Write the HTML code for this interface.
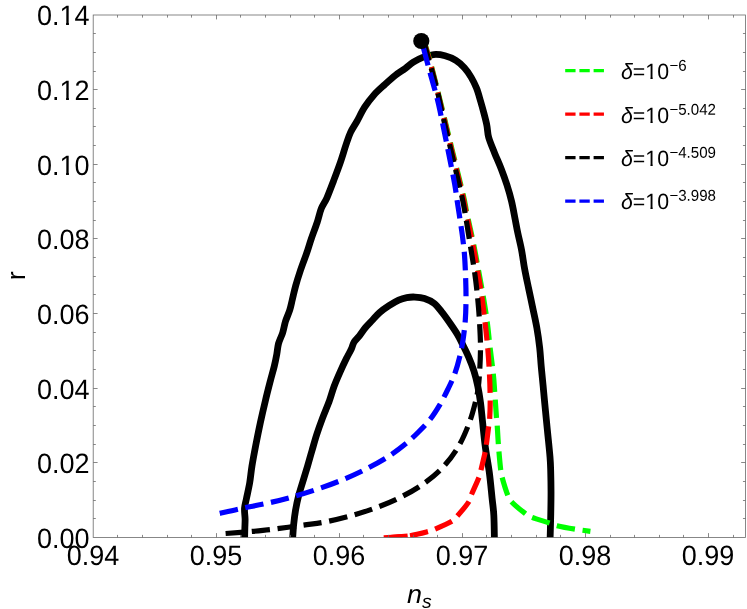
<!DOCTYPE html><html><head><meta charset="utf-8"><style>
html,body{margin:0;padding:0;background:#fff;}
body{width:747px;height:609px;position:relative;overflow:hidden;font-family:"Liberation Sans",sans-serif;color:#000;}
.t{position:absolute;font-size:27px;line-height:27px;white-space:nowrap;}
.d{transform:rotate(0.03deg) scaleY(1.04);transform-origin:50% 22.85px;}
.yl{right:657.5px;text-align:right;}
.xl{width:80px;text-align:center;}
.o{display:inline-block;clip-path:polygon(0 0,100% 0,100% 0.735em,62.5% 0.735em,62.5% 100%,43.5% 100%,43.5% 0.735em,0 0.735em);}
.lg{position:absolute;left:620.8px;font-size:21.3px;line-height:22px;white-space:nowrap;transform:rotate(0.03deg) scaleY(1.04);transform-origin:0 18.3px;}
.lg .o{clip-path:polygon(0 0,100% 0,100% 0.758em,62.5% 0.758em,62.5% 100%,43.5% 100%,43.5% 0.758em,0 0.758em);}
.lg i{font-style:italic;}
.lg sup{font-size:15.1px;line-height:0;vertical-align:baseline;position:relative;top:-8.3px;left:0.4px}
</style></head><body>
<svg width="747" height="609" viewBox="0 0 747 609" style="position:absolute;left:0;top:0">
<clipPath id="c"><rect x="93.2" y="15.0" width="652.3" height="522.5"/></clipPath>
<g clip-path="url(#c)" fill="none" stroke-linejoin="round">
<path d="M244.60 539.00 C244.64 537.22 244.75 531.61 244.84 528.30 C244.92 524.99 245.15 522.48 245.10 519.14 C245.04 515.80 244.28 511.80 244.52 508.29 C244.76 504.77 245.68 502.31 246.54 498.06 C247.41 493.81 248.79 488.12 249.70 482.80 C250.60 477.48 250.95 472.33 251.95 466.15 C252.95 459.97 254.30 452.92 255.68 445.72 C257.07 438.53 258.66 430.55 260.28 423.00 C261.91 415.45 263.78 407.41 265.45 400.42 C267.12 393.43 268.83 386.78 270.30 381.06 C271.78 375.34 273.22 370.56 274.30 366.10 C275.37 361.63 276.05 358.06 276.76 354.30 C277.46 350.53 277.56 347.10 278.54 343.50 C279.53 339.90 281.51 336.40 282.68 332.70 C283.84 329.01 284.34 325.08 285.52 321.31 C286.71 317.54 288.63 313.71 289.76 310.08 C290.90 306.45 291.37 303.52 292.34 299.51 C293.32 295.49 294.32 290.70 295.62 285.99 C296.92 281.28 298.32 276.71 300.16 271.24 C302.00 265.77 304.83 258.50 306.66 253.18 C308.48 247.85 309.34 244.43 311.10 239.29 C312.85 234.15 315.48 227.45 317.18 222.33 C318.88 217.21 319.66 212.65 321.29 208.56 C322.91 204.47 324.86 202.46 326.93 197.78 C329.00 193.11 331.45 186.45 333.70 180.50 C335.95 174.55 338.39 168.10 340.46 162.10 C342.52 156.10 344.40 149.49 346.08 144.53 C347.76 139.57 348.72 136.21 350.54 132.33 C352.35 128.45 354.65 125.45 357.00 121.25 C359.34 117.05 361.79 111.54 364.62 107.15 C367.44 102.76 370.56 98.69 373.94 94.90 C377.32 91.12 381.32 87.70 384.88 84.43 C388.44 81.17 391.90 77.99 395.30 75.32 C398.70 72.65 402.26 70.61 405.26 68.41 C408.27 66.21 410.42 63.95 413.33 62.12 C416.24 60.28 419.32 58.64 422.72 57.38 C426.11 56.12 430.00 54.82 433.71 54.54 C437.42 54.26 441.30 54.74 444.99 55.71 C448.68 56.67 452.63 58.33 455.86 60.34 C459.10 62.34 461.85 64.93 464.38 67.73 C466.92 70.52 469.05 73.68 471.08 77.12 C473.11 80.55 475.00 84.32 476.58 88.33 C478.16 92.33 479.32 96.92 480.56 101.14 C481.81 105.36 482.99 109.64 484.04 113.67 C485.09 117.69 486.08 121.35 486.85 125.30 C487.62 129.25 487.39 132.75 488.67 137.35 C489.96 141.95 492.45 147.63 494.55 152.90 C496.65 158.17 499.19 163.64 501.26 169.00 C503.33 174.36 505.25 179.69 506.97 185.09 C508.69 190.49 510.22 195.77 511.57 201.39 C512.92 207.01 514.03 213.59 515.06 218.79 C516.08 224.00 516.65 227.44 517.73 232.61 C518.81 237.78 520.38 243.74 521.53 249.83 C522.69 255.91 523.48 262.64 524.67 269.11 C525.86 275.59 527.33 282.17 528.69 288.69 C530.05 295.20 531.45 301.70 532.81 308.21 C534.17 314.73 535.70 321.27 536.83 327.79 C537.97 334.30 538.89 340.80 539.63 347.31 C540.37 353.83 540.69 360.49 541.27 366.89 C541.85 373.28 542.55 379.86 543.10 385.69 C543.66 391.53 543.90 394.61 544.60 401.91 C545.31 409.21 546.41 420.36 547.31 429.49 C548.21 438.62 549.42 449.73 549.99 456.70 C550.55 463.68 550.53 465.42 550.70 471.32 C550.87 477.22 551.01 484.90 551.02 492.10 C551.02 499.30 550.90 506.71 550.75 514.52 C550.60 522.34 550.21 534.92 550.10 539.00" stroke="#000" stroke-width="6.8"/>
<path d="M292.60 539.00 C292.78 536.54 293.21 529.01 293.70 524.23 C294.18 519.45 294.73 514.97 295.52 510.31 C296.31 505.66 297.20 501.23 298.46 496.31 C299.73 491.39 301.61 485.76 303.10 480.78 C304.60 475.79 305.97 471.45 307.45 466.42 C308.93 461.39 310.45 455.92 312.00 450.60 C313.55 445.28 314.98 439.91 316.73 434.50 C318.49 429.09 320.41 423.78 322.53 418.12 C324.65 412.47 327.54 405.86 329.46 400.59 C331.37 395.31 332.31 391.13 334.04 386.46 C335.77 381.80 337.76 377.22 339.82 372.58 C341.88 367.94 344.47 362.50 346.37 358.61 C348.27 354.72 349.96 351.97 351.23 349.24 C352.50 346.51 352.62 344.45 353.98 342.22 C355.34 339.99 357.49 338.29 359.41 335.84 C361.33 333.39 363.36 330.13 365.51 327.54 C367.66 324.95 369.96 322.77 372.30 320.28 C374.64 317.79 376.76 315.05 379.55 312.62 C382.33 310.19 385.83 307.80 389.01 305.72 C392.20 303.64 395.70 301.48 398.66 300.13 C401.62 298.78 404.09 298.12 406.80 297.60 C409.51 297.09 411.98 296.88 414.93 297.03 C417.88 297.18 421.31 297.45 424.51 298.50 C427.72 299.55 431.20 300.97 434.16 303.32 C437.12 305.68 439.63 309.27 442.30 312.63 C444.97 316.00 447.65 319.83 450.20 323.51 C452.75 327.18 455.60 331.35 457.58 334.67 C459.57 338.00 460.28 339.72 462.13 343.45 C463.98 347.19 466.69 352.41 468.68 357.09 C470.68 361.76 472.57 366.66 474.08 371.51 C475.60 376.36 476.72 381.05 477.79 386.20 C478.86 391.36 479.71 396.59 480.49 402.43 C481.28 408.27 481.70 413.93 482.50 421.25 C483.29 428.57 484.10 437.76 485.24 446.34 C486.38 454.92 488.22 464.06 489.36 472.73 C490.50 481.41 491.36 491.29 492.10 498.39 C492.85 505.49 493.45 508.55 493.83 515.32 C494.21 522.09 494.31 535.05 494.40 539.00" stroke="#000" stroke-width="6.8"/>
<path d="M424.20 41.00 C425.55 45.72 429.22 57.63 432.30 69.30 C435.38 80.97 439.38 97.55 442.70 111.00 C446.02 124.45 448.77 135.97 452.20 150.00 C455.63 164.03 460.87 184.75 463.30 195.20 C465.73 205.65 465.07 204.48 466.80 212.70 C468.53 220.92 471.75 234.90 473.70 244.50 C475.65 254.10 476.92 261.68 478.50 270.30 C480.08 278.92 481.75 287.62 483.20 296.20 C484.65 304.78 486.05 313.18 487.20 321.80 C488.35 330.42 489.08 339.22 490.10 347.90 C491.12 356.58 492.53 366.57 493.30 373.90 C494.07 381.23 494.17 384.55 494.70 391.90 C495.23 399.25 496.08 412.43 496.50 418.00 C496.92 423.57 496.85 420.38 497.20 425.30 C497.55 430.22 498.02 440.07 498.60 447.50 C499.18 454.93 500.12 464.92 500.70 469.90 C501.28 474.88 500.98 473.33 502.10 477.40 C503.22 481.47 505.85 490.25 507.40 494.30 C508.95 498.35 508.45 498.52 511.40 501.70 C514.35 504.88 521.67 510.78 525.10 513.40 C528.53 516.02 527.92 515.80 532.00 517.40 C536.08 519.00 545.43 521.62 549.60 523.00 C553.77 524.38 552.75 524.67 557.00 525.70 C561.25 526.73 569.53 528.27 575.10 529.20 C580.67 530.13 587.85 530.95 590.40 531.30" stroke="#00ff00" stroke-width="5.2" stroke-dasharray="18.4 7.7" stroke-dashoffset="25.25"/>
<path d="M389.20 537.50 C392.58 537.22 403.05 536.78 409.50 535.80 C415.95 534.82 423.68 532.70 427.90 531.60 C432.12 530.50 430.88 530.88 434.80 529.20 C438.72 527.52 447.65 523.70 451.40 521.50 C455.15 519.30 454.47 519.18 457.30 516.00 C460.13 512.82 466.02 506.02 468.40 502.40 C470.78 498.78 469.83 498.47 471.60 494.30 C473.37 490.13 477.43 481.47 479.00 477.40 C480.57 473.33 480.00 473.98 481.00 469.90 C482.00 465.82 484.12 457.05 485.00 452.90 C485.88 448.75 485.70 449.38 486.30 445.00 C486.90 440.62 488.03 431.10 488.60 426.60 C489.17 422.10 489.43 422.43 489.70 418.00 C489.97 413.57 490.23 407.18 490.20 400.00 C490.17 392.82 489.90 383.42 489.50 374.90 C489.10 366.38 488.53 357.62 487.80 348.90 C487.07 340.18 486.08 331.28 485.10 322.60 C484.12 313.92 483.15 305.45 481.90 296.80 C480.65 288.15 479.08 279.35 477.60 270.70 C476.12 262.05 474.90 254.57 473.00 244.90 C471.10 235.23 467.92 220.98 466.20 212.70 C464.48 204.42 465.12 205.65 462.70 195.20 C460.28 184.75 455.10 164.03 451.70 150.00 C448.30 135.97 445.58 124.45 442.30 111.00 C439.02 97.55 435.07 80.97 432.00 69.30 C428.93 57.63 425.25 45.72 423.90 41.00" stroke="#ff0000" stroke-width="5.2" stroke-dasharray="18.4 7.7" stroke-dashoffset="5.20"/>
<path d="M383.7 537.8 Q396 537.3 407.7 536.0" stroke="#ff0000" stroke-width="5.2"/>
<path d="M225.40 533.50 C229.68 533.17 243.08 532.22 251.10 531.50 C259.12 530.78 264.80 530.27 273.50 529.20 C282.20 528.13 294.72 526.30 303.30 525.10 C311.88 523.90 317.07 523.55 325.00 522.00 C332.93 520.45 342.48 518.15 350.90 515.80 C359.32 513.45 367.42 510.90 375.50 507.90 C383.58 504.90 391.62 501.67 399.40 497.80 C407.18 493.93 415.07 489.67 422.20 484.70 C429.33 479.73 436.20 474.30 442.20 468.00 C448.20 461.70 453.73 454.32 458.20 446.90 C462.67 439.48 466.17 430.82 469.00 423.50 C471.83 416.18 473.67 408.92 475.20 403.00 C476.73 397.08 477.43 393.68 478.20 388.00 C478.97 382.32 479.42 375.73 479.80 368.90 C480.18 362.07 480.52 354.32 480.50 347.00 C480.48 339.68 480.03 331.58 479.70 325.00 C479.37 318.42 478.97 313.23 478.50 307.50 C478.03 301.77 477.53 296.37 476.90 290.60 C476.27 284.83 475.52 278.72 474.70 272.90 C473.88 267.08 473.12 262.68 472.00 255.70 C470.88 248.72 469.17 238.17 468.00 231.00 C466.83 223.83 466.07 218.67 465.00 212.70 C463.93 206.73 463.95 205.65 461.60 195.20 C459.25 184.75 454.22 164.03 450.90 150.00 C447.58 135.97 443.87 120.45 441.70 111.00 C439.53 101.55 439.60 100.25 437.90 93.30 C436.20 86.35 433.90 78.02 431.50 69.30 C429.10 60.58 424.83 45.72 423.50 41.00" stroke="#000000" stroke-width="5.2" stroke-dasharray="18.4 7.7" stroke-dashoffset="25.80"/>
<path d="M219.30 513.50 C223.00 512.65 233.55 510.10 241.50 508.40 C249.45 506.70 258.58 505.20 267.00 503.30 C275.42 501.40 283.67 499.33 292.00 497.00 C300.33 494.67 308.67 492.13 317.00 489.30 C325.33 486.47 333.92 483.33 342.00 480.00 C350.08 476.67 357.78 473.22 365.50 469.30 C373.22 465.38 381.55 460.80 388.30 456.50 C395.05 452.20 400.97 447.58 406.00 443.50 C411.03 439.42 414.48 436.02 418.50 432.00 C422.52 427.98 426.53 423.97 430.10 419.40 C433.67 414.83 436.92 409.67 439.90 404.60 C442.88 399.53 445.53 394.12 448.00 389.00 C450.47 383.88 452.75 379.27 454.70 373.90 C456.65 368.53 458.32 362.45 459.70 356.80 C461.08 351.15 462.07 346.13 463.00 340.00 C463.93 333.87 464.80 326.67 465.30 320.00 C465.80 313.33 465.93 306.67 466.00 300.00 C466.07 293.33 465.95 287.50 465.70 280.00 C465.45 272.50 465.07 262.50 464.50 255.00 C463.93 247.50 463.08 241.15 462.30 235.00 C461.52 228.85 460.65 223.77 459.80 218.10 C458.95 212.43 458.08 206.85 457.20 201.00 C456.32 195.15 456.03 191.50 454.50 183.00 C452.97 174.50 450.25 161.23 448.00 150.00 C445.75 138.77 442.82 124.25 441.00 115.60 C439.18 106.95 438.93 105.27 437.10 98.10 C435.27 90.93 432.58 82.12 430.00 72.60 C427.42 63.08 423.00 46.27 421.60 41.00" stroke="#0000ff" stroke-width="5.2" stroke-dasharray="18.4 7.7" stroke-dashoffset="25.50"/>
<circle cx="421.3" cy="41" r="8.1" fill="#000" stroke="none"/>
</g>
<g stroke="#6a6a6a" stroke-width="0.8" fill="none">
<rect x="93.2" y="15.0" width="652.3" height="522.5"/>
<path d="M117.50 537.50 v-2.60 M117.50 15.00 v2.60 M142.50 537.50 v-2.60 M142.50 15.00 v2.60 M167.50 537.50 v-2.60 M167.50 15.00 v2.60 M191.50 537.50 v-2.60 M191.50 15.00 v2.60 M216.50 537.50 v-4.40 M216.50 15.00 v4.40 M240.50 537.50 v-2.60 M240.50 15.00 v2.60 M265.50 537.50 v-2.60 M265.50 15.00 v2.60 M290.50 537.50 v-2.60 M290.50 15.00 v2.60 M314.50 537.50 v-2.60 M314.50 15.00 v2.60 M339.50 537.50 v-4.40 M339.50 15.00 v4.40 M363.50 537.50 v-2.60 M363.50 15.00 v2.60 M388.50 537.50 v-2.60 M388.50 15.00 v2.60 M413.50 537.50 v-2.60 M413.50 15.00 v2.60 M437.50 537.50 v-2.60 M437.50 15.00 v2.60 M462.50 537.50 v-4.40 M462.50 15.00 v4.40 M486.50 537.50 v-2.60 M486.50 15.00 v2.60 M511.50 537.50 v-2.60 M511.50 15.00 v2.60 M536.50 537.50 v-2.60 M536.50 15.00 v2.60 M560.50 537.50 v-2.60 M560.50 15.00 v2.60 M585.50 537.50 v-4.40 M585.50 15.00 v4.40 M610.50 537.50 v-2.60 M610.50 15.00 v2.60 M634.50 537.50 v-2.60 M634.50 15.00 v2.60 M659.50 537.50 v-2.60 M659.50 15.00 v2.60 M683.50 537.50 v-2.60 M683.50 15.00 v2.60 M708.50 537.50 v-4.40 M708.50 15.00 v4.40 M733.50 537.50 v-2.60 M733.50 15.00 v2.60 M93.20 518.50 h2.60 M745.55 518.50 h-2.60 M93.20 500.50 h2.60 M745.55 500.50 h-2.60 M93.20 481.50 h2.60 M745.55 481.50 h-2.60 M93.20 462.50 h4.40 M745.55 462.50 h-4.40 M93.20 444.50 h2.60 M745.55 444.50 h-2.60 M93.20 425.50 h2.60 M745.55 425.50 h-2.60 M93.20 406.50 h2.60 M745.55 406.50 h-2.60 M93.20 388.50 h4.40 M745.55 388.50 h-4.40 M93.20 369.50 h2.60 M745.55 369.50 h-2.60 M93.20 350.50 h2.60 M745.55 350.50 h-2.60 M93.20 332.50 h2.60 M745.55 332.50 h-2.60 M93.20 313.50 h4.40 M745.55 313.50 h-4.40 M93.20 294.50 h2.60 M745.55 294.50 h-2.60 M93.20 276.50 h2.60 M745.55 276.50 h-2.60 M93.20 257.50 h2.60 M745.55 257.50 h-2.60 M93.20 238.50 h4.40 M745.55 238.50 h-4.40 M93.20 220.50 h2.60 M745.55 220.50 h-2.60 M93.20 201.50 h2.60 M745.55 201.50 h-2.60 M93.20 182.50 h2.60 M745.55 182.50 h-2.60 M93.20 164.50 h4.40 M745.55 164.50 h-4.40 M93.20 145.50 h2.60 M745.55 145.50 h-2.60 M93.20 126.50 h2.60 M745.55 126.50 h-2.60 M93.20 108.50 h2.60 M745.55 108.50 h-2.60 M93.20 89.50 h4.40 M745.55 89.50 h-4.40 M93.20 71.50 h2.60 M745.55 71.50 h-2.60 M93.20 52.50 h2.60 M745.55 52.50 h-2.60 M93.20 33.50 h2.60 M745.55 33.50 h-2.60"/>
</g>
<path d="M565.2 70.7 H604.0" stroke="#00ff00" stroke-width="3.3" stroke-dasharray="10.35 3.85" fill="none"/>
<path d="M565.2 114.2 H604.0" stroke="#ff0000" stroke-width="3.3" stroke-dasharray="10.35 3.85" fill="none"/>
<path d="M565.2 157.7 H604.0" stroke="#000000" stroke-width="3.3" stroke-dasharray="10.35 3.85" fill="none"/>
<path d="M565.2 201.2 H604.0" stroke="#0000ff" stroke-width="3.3" stroke-dasharray="10.35 3.85" fill="none"/>
</svg>
<div id="tx" style="position:absolute;left:0;top:0;width:747px;height:609px;will-change:transform">
<div class="t d yl" style="top:525.8px">0.00</div>
<div class="t d yl" style="top:451.2px">0.02</div>
<div class="t d yl" style="top:376.5px">0.04</div>
<div class="t d yl" style="top:301.9px">0.06</div>
<div class="t d yl" style="top:227.2px">0.08</div>
<div class="t d yl" style="top:152.6px">0.<span class="o">1</span>0</div>
<div class="t d yl" style="top:78.0px">0.<span class="o">1</span>2</div>
<div class="t d yl" style="top:3.3px">0.<span class="o">1</span>4</div>
<div class="t d xl" style="left:52.9px;top:543.3px">0.94</div>
<div class="t d xl" style="left:175.9px;top:543.3px">0.95</div>
<div class="t d xl" style="left:299.0px;top:543.3px">0.96</div>
<div class="t d xl" style="left:422.0px;top:543.3px">0.97</div>
<div class="t d xl" style="left:545.1px;top:543.3px">0.98</div>
<div class="t d xl" style="left:668.2px;top:543.3px">0.99</div>
<div class="t" style="left:0;top:0;transform-origin:0 0;transform:translate(3.6px,280.3px) rotate(-90deg) scaleY(0.965);">r</div>
<div class="t" style="left:406.9px;top:580.5px;font-style:italic;transform:rotate(0.03deg) scaleY(0.965);transform-origin:0 22.5px">n<span style="font-size:19.4px;position:relative;top:5.05px;left:-0.1px">s</span></div>
<div class="lg" style="top:61.2px"><i>&delta;</i>=<span class="o">1</span>0<sup>&minus;6</sup></div>
<div class="lg" style="top:104.6px"><i>&delta;</i>=<span class="o">1</span>0<sup>&minus;5.042</sup></div>
<div class="lg" style="top:148.0px"><i>&delta;</i>=<span class="o">1</span>0<sup>&minus;4.509</sup></div>
<div class="lg" style="top:191.4px"><i>&delta;</i>=<span class="o">1</span>0<sup>&minus;3.998</sup></div>
</div>
</body></html>
